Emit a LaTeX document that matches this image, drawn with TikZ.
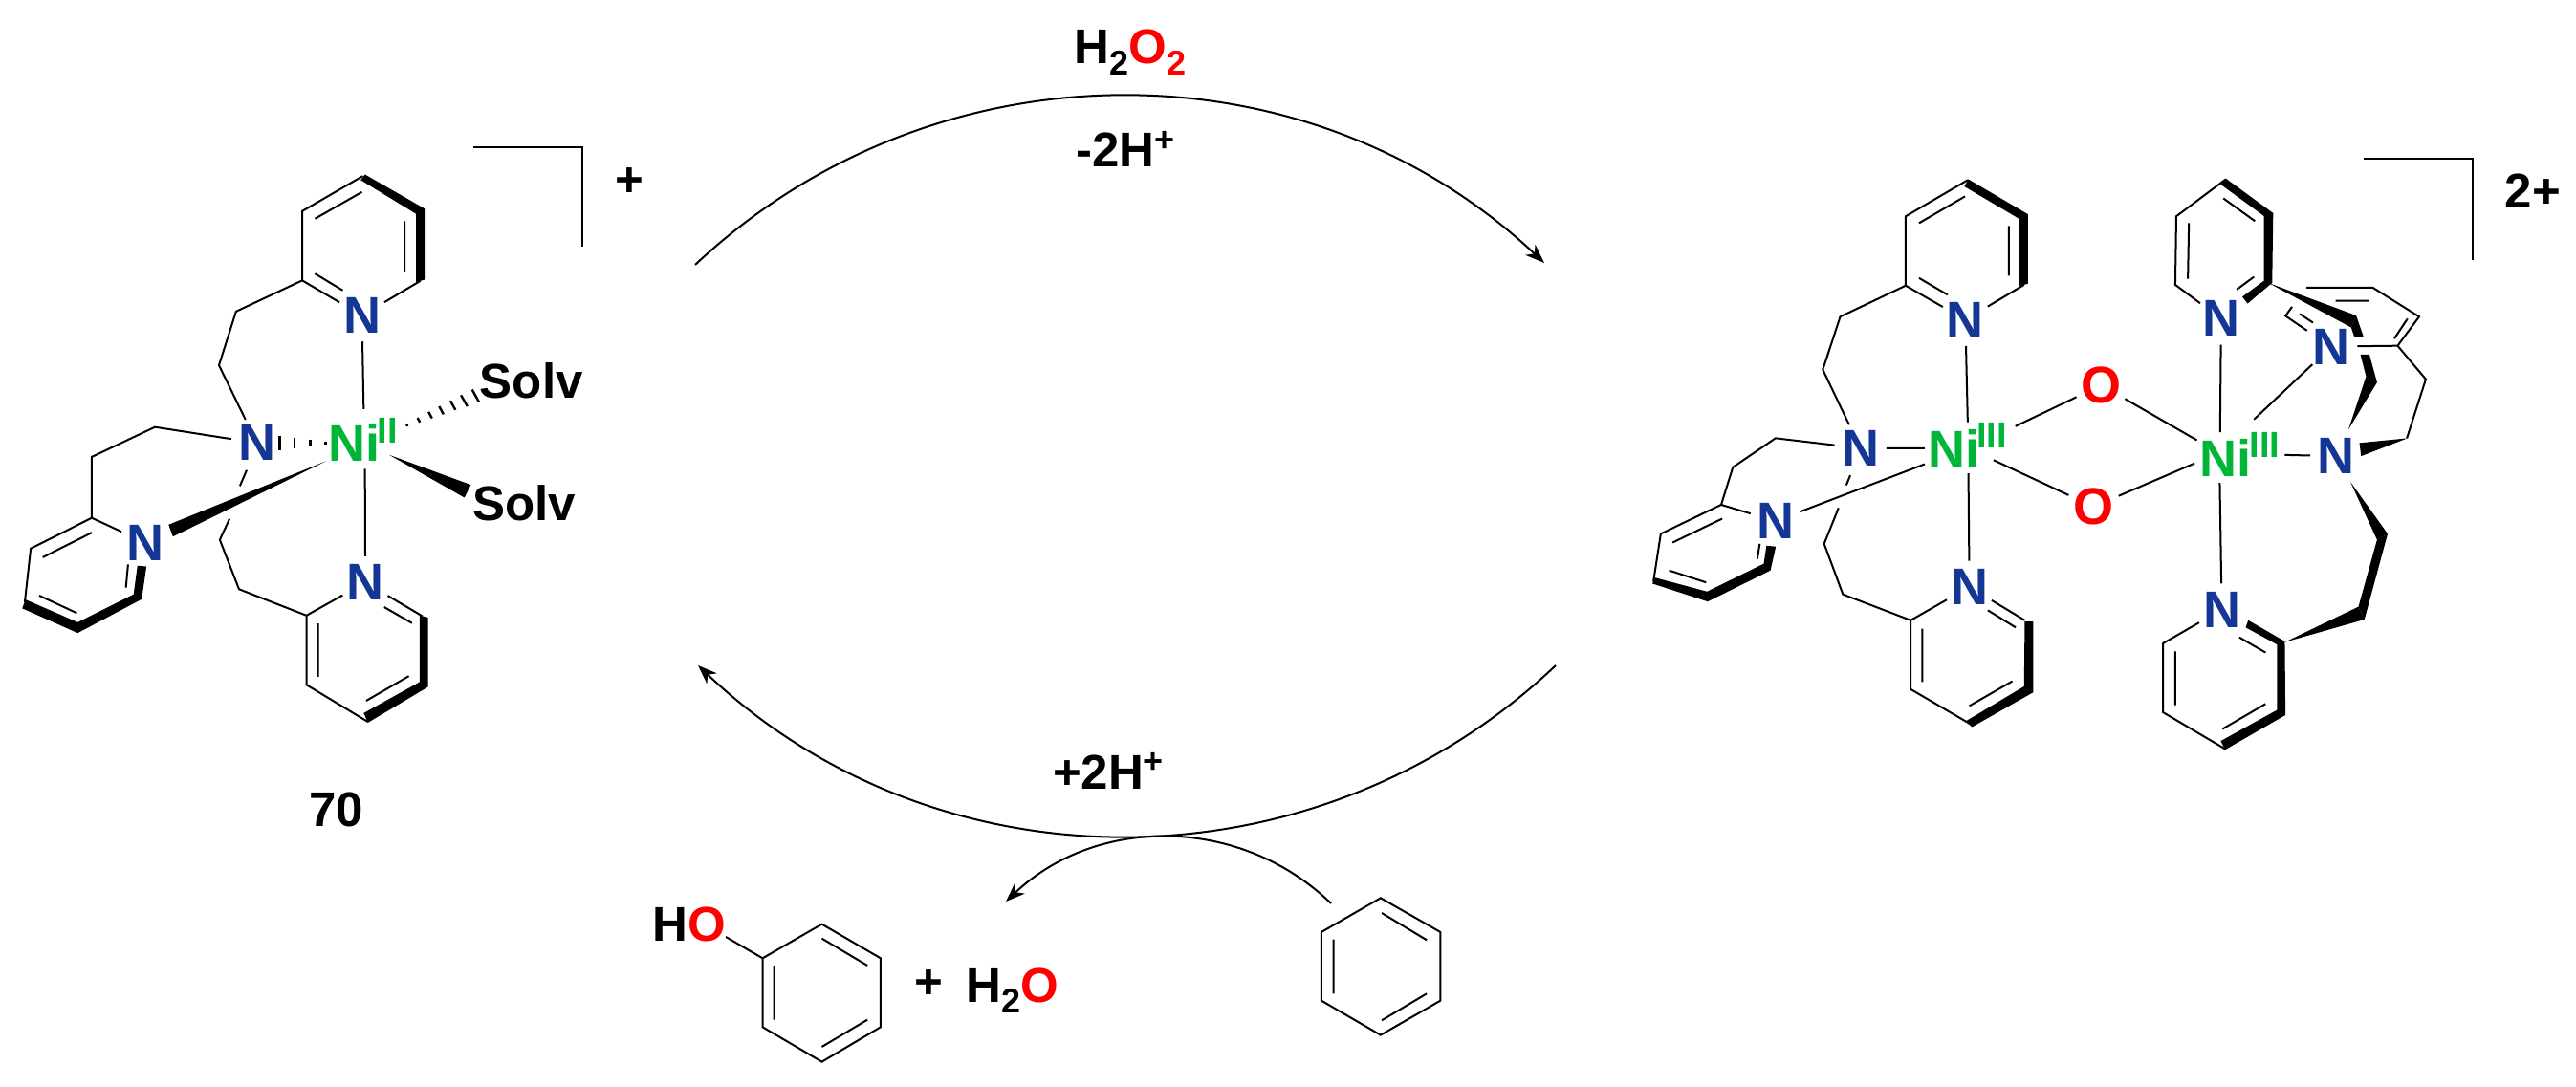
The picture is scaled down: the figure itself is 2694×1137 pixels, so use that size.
\documentclass[tikz,border=0pt]{standalone}
\usepackage{fontspec}
\setmainfont{Liberation Sans}[BoldFont={Liberation Sans Bold}]
\usetikzlibrary{arrows.meta}
\definecolor{nblue}{RGB}{20,55,150}
\definecolor{nigreen}{RGB}{0,181,55}
\newcommand{\lowtwo}{\raisebox{-.22em}{\fontsize{18bp}{18bp}\selectfont 2}}
\newcommand{\hiplus}{\raisebox{.33em}{\fontsize{18bp}{18bp}\selectfont +}}
\tikzset{
 bond/.style={line width=1bp,line cap=butt,line join=miter},
 hash/.style={line width=1.2bp,line cap=butt},
 atomN/.style={circle,inner sep=0pt,minimum size=26bp,text=nblue,font=\fontsize{27bp}{27bp}\selectfont\bfseries},
 atomO/.style={circle,inner sep=0pt,minimum size=26bp,text=red,font=\fontsize{27bp}{27bp}\selectfont\bfseries},
 metal/.style={inner sep=0pt,text=nigreen,font=\fontsize{27bp}{27bp}\selectfont\bfseries},
 ox/.style={inner sep=0pt,text=nigreen,font=\fontsize{19bp}{19bp}\selectfont\bfseries},
 lab/.style={inner sep=0pt,text=black,font=\fontsize{25.5bp}{25.5bp}\selectfont\bfseries},
 curve/.style={line width=1bp,-{Stealth[length=10bp,width=7.5bp,inset=3bp]}},
 za/.style={shift={(0,130)},xscale=.4464,yscale=.4167},
 zb/.style={shift={(1700,150)},xscale=.3508,yscale=.4167},
 zc/.style={shift={(2150,150)},xscale=.347,yscale=.4167},
 zd/.style={shift={(650,780)},xscale=.574,yscale=.3333},
}
\begin{document}
\begin{tikzpicture}[x=.5bp,y=-.5bp]
\useasboundingbox (0,0) rectangle (2694,1137);
% ---- cycle arrows
\coordinate (t1) at (727,277);\coordinate (t2) at (1615,275);
\coordinate (b1) at (1627,696);\coordinate (b2) at (730,696);
\coordinate (s1) at (1392,945);\coordinate (s2) at (1052,943);
\draw[curve] (t1) .. controls (976,43) and (1366,41) .. (t2);
\draw[curve] (b1) .. controls (1376,934) and (981,934) .. (b2);
\draw[curve] (s1) .. controls (1297,853) and (1147,853) .. (s2);
\node[lab,anchor=base] (lh2o2) at (1182,67) {H\lowtwo\textcolor{red}{O\lowtwo}};
\node[lab,anchor=base] (lm2h) at (1177,175) {-2H\hiplus};
\node[lab,anchor=base] (lp2h) at (1159,825) {+2H\hiplus};
\node[lab] (l70) at (352,847) {70};
% ---- molecule A
\begin{scope}[za]
\node[atomN] (Na1) at (848,480) {N};
\node[atomN] (Na2) at (602,800) {N};
\node[atomN] (Na3) at (340,1050) {N};
\node[atomN] (Na4) at (856,1150) {N};
\node[metal] (Nia) at (830,800) {Ni};
\node[ox] (oxa) at (908,768) {II};
\node[lab] (sa1) at (1245,645) {Solv};
\node[lab] (sa2) at (1228,950) {Solv};
\node[lab] (pa) at (1475,145) {+};
\draw[bond] (1108,58) -- (1365,58) -- (1365,308);
% top pyridine
\coordinate (a1c2) at (708,392);\coordinate (a1c6) at (985,393);
\draw[bond] (Na1) -- (a1c2) -- (708,218) -- (850,130);
\draw[bond] (738,237) -- (848,170) (948,243) -- (948,370) (738,375) -- (803,417);
\draw[bond] (a1c6) -- (Na1);
\fill (855,126) -- (995,212) -- (995,390) -- (975,396) -- (975,225) -- (845,140) -- cycle;
% chains
\draw[bond] (a1c2) -- (553,470) -- (513,605) -- (Na2);
\coordinate (a3c2) at (215,988);
\draw[bond] (Na2) -- (363,760) -- (215,835) -- (a3c2) -- (Na3);
\draw[bond] (a3c2) -- (72,1065) -- (58,1200);
\draw[bond] (215,1025) -- (100,1087) (92,1183) -- (180,1227) (300,1105) -- (295,1163);
\fill (52,1215) -- (182,1277) -- (332,1192) -- (343,1110) -- (322,1108) -- (313,1180) -- (182,1250) -- (60,1193) -- cycle;
\coordinate (a4c2) at (718,1233);
\draw[bond] (578,868) -- (562,908) (538,990) -- (515,1043) -- (560,1167) -- (a4c2) -- (Na4);
\draw[bond] (a4c2) -- (718,1407) -- (862,1500);
\draw[bond] (Na4) -- (990,1235) (900,1212) -- (965,1252) (745,1253) -- (745,1387) (858,1447) -- (958,1385);
\fill (983,1233) -- (1003,1238) -- (1003,1412) -- (862,1502) -- (852,1478) -- (983,1400) -- cycle;
% metal bonds
\coordinate (nat) at (852,715);\coordinate (nab) at (855,865);
\draw[bond] (Na1) -- (nat) (nab) -- (Na4);
\fill (765,845) -- (395,1005) -- (405,1035) -- cycle;
\fill (912,830) -- (1103,905) -- (1088,937) -- cycle;
\draw[hash] (655,783) -- (655,818) (690,787) -- (690,813) (727,791) -- (727,809) (763,797) -- (763,803);
\draw[hash] (952,752) -- (955,758) (978,737) -- (984,748) (1004,722) -- (1012,738) (1029,708) -- (1039,728) (1055,694) -- (1067,717) (1080,680) -- (1095,708) (1106,666) -- (1122,697);
\end{scope}
% ---- molecule B left half
\begin{scope}[zb]
\node[atomN] (Nb1) at (1013,443) {N};
\node[atomN] (Nb2) at (700,765) {N};
\node[atomN] (Nb3) at (447,948) {N};
\node[atomN] (Nb4) at (1025,1113) {N};
\node[metal] (Nib) at (978,765) {Ni};
\node[ox] (oxb) at (1092,733) {III};
\node[atomO] (Ob1) at (1418,607) {O};
\node[atomO] (Ob2) at (1395,912) {O};
\coordinate (b1c2) at (835,357);\coordinate (b1c6) at (1188,355);
\draw[bond] (Nb1) -- (b1c2) -- (835,183) -- (1020,92);
\draw[bond] (875,200) -- (1012,133) (1143,207) -- (1143,332) (875,338) -- (960,380) (b1c6) -- (Nb1);
\fill (1022,90) -- (1200,178) -- (1200,352) -- (1175,358) -- (1175,190) -- (1010,108) -- cycle;
\draw[bond] (b1c2) -- (640,435) -- (588,568) -- (Nb2);
\coordinate (b3c2) at (285,907);
\draw[bond] (Nb2) -- (447,740) -- (320,813) -- (b3c2) -- (Nb3);
\draw[bond] (b3c2) -- (105,980) -- (83,1100);
\draw[bond] (288,942) -- (140,1002) (130,1072) -- (240,1102) (400,1005) -- (393,1043);
\fill (80,1105) -- (245,1150) -- (432,1072) -- (448,1012) -- (420,1010) -- (412,1055) -- (243,1125) -- (88,1090) -- cycle;
\coordinate (b4c2) at (850,1197);
\draw[bond] (670,833) -- (658,858) (635,915) -- (592,1005) -- (648,1132) -- (b4c2);
\draw[bond] (b4c2) -- (Nb4) -- (1190,1197) (1080,1172) -- (1163,1215);
\draw[bond] (b4c2) -- (850,1370) -- (1033,1460) (885,1218) -- (885,1352) (1025,1412) -- (1153,1350);
\fill (1190,1200) -- (1215,1200) -- (1215,1378) -- (1033,1465) -- (1015,1450) -- (1188,1363) -- cycle;
\coordinate (nbt) at (1020,700);\coordinate (nbb) at (1022,828);\coordinate (nbl) at (892,765);\coordinate (nbw) at (892,805);
\coordinate (nbo1) at (1162,710);\coordinate (nbo2) at (1097,795);
\draw[bond] (Nb1) -- (nbt) (nbb) -- (Nb4) (Nb2) -- (nbl) (nbw) -- (Nb3) (nbo1) -- (Ob1) (nbo2) -- (Ob2);
\end{scope}
% ---- molecule B right half
\begin{scope}[zc]
\node[atomN] (Nc1) at (498,440) {N};
\node[atomN] (Nc2) at (830,510) {N};
\node[atomN] (Nc3) at (845,785) {N};
\node[atomN] (Nc4) at (500,1170) {N};
\node[metal] (Nic) at (512,790) {Ni};
\node[ox] (oxc) at (630,758) {III};
\node[lab] (pc) at (1438,120) {2+};
\draw[bond] (928,38) -- (1257,38) -- (1257,292);
\coordinate (nco1) at (425,745);\coordinate (nco2) at (418,803);
\draw[bond] (Ob1) -- (nco1) (Ob2) -- (nco2);
\coordinate (nct) at (495,725);\coordinate (ncb) at (494,852);\coordinate (ncr) at (597,693);\coordinate (ncn) at (690,782);
\draw[bond] (Nc1) -- (nct) (ncb) -- (Nc4) (ncr) -- (Nc2) (ncn) -- (Nc3);
% top ring
\draw[bond] (Nc1) -- (360,355) -- (363,183) -- (512,90);
\draw[bond] (398,340) -- (401,200) (505,138) -- (600,195) (545,367) -- (597,335);
\fill (512,88) -- (655,175) -- (652,350) -- (578,402) -- (562,385) -- (627,345) -- (627,182) -- (497,103) -- cycle;
% ring behind
\draw[bond] (755,362) -- (955,362) -- (1095,435) -- (1030,508) -- (Nc2);
\draw[bond] (843,395) -- (945,395) (1060,440) -- (1020,490);
\draw[bond] (712,410) -- (692,433) -- (757,470) (735,428) -- (775,450);
\draw[bond] (1030,508) -- (1115,592) -- (1058,740);
% bold chain over it
\fill (640,350) -- (905,432) -- (890,462) -- cycle;
\fill (905,432) -- (928,487) -- (900,487) -- (890,462) -- cycle;
\fill (918,530) -- (945,530) -- (968,600) -- (935,585) -- cycle;
\fill (968,600) -- (935,585) -- (882,718) -- cycle;
\fill (915,752) -- (1060,740) -- (920,785) -- cycle;
\fill (888,850) -- (1000,980) -- (968,995) -- cycle;
\fill (1000,980) -- (930,1195) -- (912,1163) -- (968,995) -- cycle;
\fill (912,1163) -- (930,1195) -- (690,1252) -- cycle;
% bottom ring
\draw[bond] (Nc4) -- (323,1255) -- (323,1428) -- (510,1520);
\draw[bond] (360,1275) -- (360,1410) (502,1470) -- (632,1407) (553,1240) -- (632,1278);
\fill (580,1197) -- (690,1250) -- (692,1435) -- (510,1522) -- (497,1500) -- (667,1422) -- (667,1258) -- (572,1215) -- cycle;
\end{scope}
% ---- phenol, water, benzene
\begin{scope}[zd]
\node[lab,anchor=base west] (lho) at (56,615) {H\textcolor{red}{O}};
\node[lab,anchor=base] (lpl) at (560,795) {+};
\node[lab,anchor=base west] (lw) at (628,805) {H\lowtwo\textcolor{red}{O}};
\coordinate (ph) at (257,667);
\draw[bond] (190,600) -- (ph);
\draw[bond] (ph) -- (365,560) -- (472,667) -- (472,883) -- (365,992) -- (257,883) -- cycle;
\draw[bond] (365,605) -- (448,690) (448,860) -- (365,945) (278,690) -- (278,860);
\draw[bond] (1383,478) -- (1492,585) -- (1492,800) -- (1383,908) -- (1275,800) -- (1275,585) -- cycle;
\draw[bond] (1385,525) -- (1467,610) (1467,778) -- (1385,862) (1297,608) -- (1297,778);
\end{scope}
\end{tikzpicture}
\end{document}
